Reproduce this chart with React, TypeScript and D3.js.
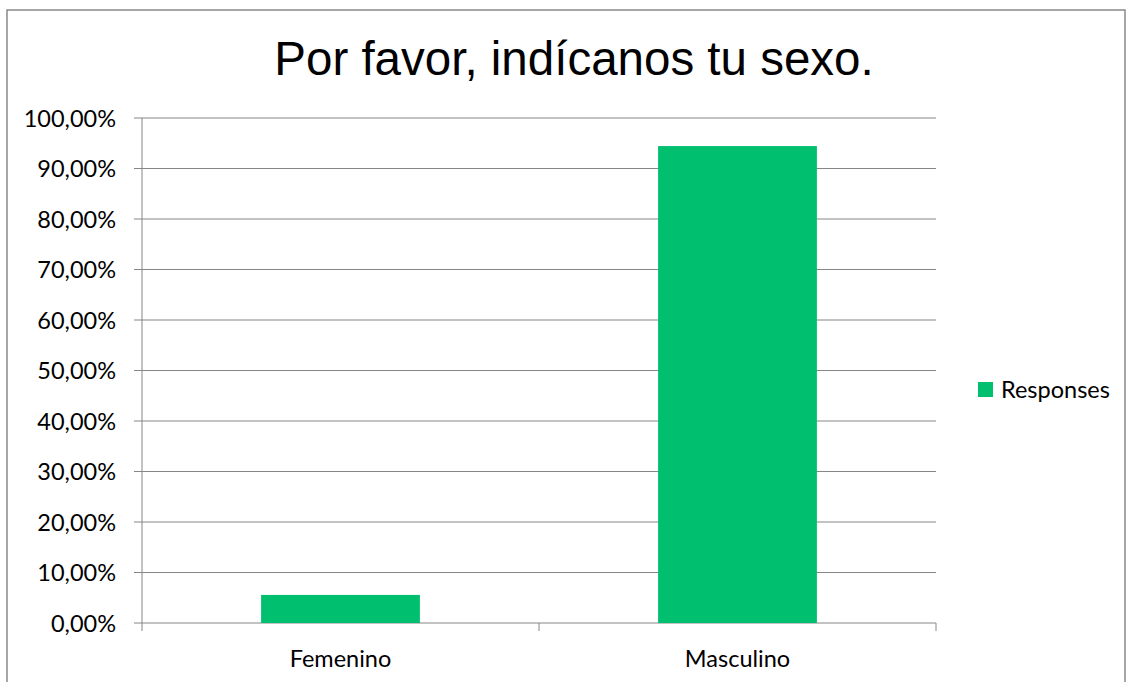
import React from "react";
import * as d3 from "d3";

const title = "Por favor, indícanos tu sexo.";
const categories = ["Femenino", "Masculino"];
const values = [5.56, 94.44];
const seriesName = "Responses";
const yTicks = [0, 10, 20, 30, 40, 50, 60, 70, 80, 90, 100];

const W = 1126;
const H = 682;
const M = { left: 142, right: 936, top: 118, bottom: 623 };
const font = "Lato, 'Open Sans', sans-serif";
const fs = 23.5;
const green = "#00BF6F";
const gridColor = "#868686";

export default function App() {
  const x = d3
    .scaleBand<string>()
    .domain(categories)
    .range([M.left, M.right])
    .paddingInner(0.6)
    .paddingOuter(0.3);
  const xOuter = d3.scaleBand<string>().domain(categories).range([M.left, M.right]).padding(0);
  const y = d3.scaleLinear().domain([0, 100]).range([M.bottom, M.top]);
  const fmt = (v: number) => v.toFixed(2).replace(".", ",") + "%";
  const xTickPositions = [M.left, ...categories.map((c) => (xOuter(c) as number) + xOuter.bandwidth())];

  return (
    <svg
      width={W}
      height={H}
      style={{ position: "absolute", left: 0, top: 0, background: "#fff" }}
    >
      <rect x={7} y={10} width={1118} height={700} fill="#fff" stroke="#898989" strokeWidth={1.5} />
      <text x={574} y={75} textAnchor="middle" fontFamily="'Liberation Sans', Arial, sans-serif" fontSize={47.5} fill="#000">
        {title}
      </text>
      {yTicks.map((t) => (
        <g key={t}>
          <line x1={M.left - 8} x2={M.right} y1={y(t)} y2={y(t)} stroke={gridColor} strokeWidth={1} />
          <text x={116} y={y(t) + 8.5} textAnchor="end" fontFamily={font} fontSize={fs} fill="#000">
            {fmt(t)}
          </text>
        </g>
      ))}
      <line x1={M.left} x2={M.left} y1={M.top} y2={M.bottom} stroke={gridColor} strokeWidth={1} />
      {xTickPositions.map((p, i) => (
        <line key={i} x1={p} x2={p} y1={M.bottom} y2={M.bottom + 8} stroke={gridColor} strokeWidth={1} />
      ))}
      {categories.map((c, i) => (
        <rect
          key={c}
          x={x(c)}
          y={y(values[i])}
          width={x.bandwidth()}
          height={y(0) - y(values[i])}
          fill={green}
        />
      ))}
      {categories.map((c) => (
        <text
          key={c}
          x={(x(c) as number) + x.bandwidth() / 2}
          y={667}
          textAnchor="middle"
          fontFamily={font}
          fontSize={fs}
          fill="#000"
        >
          {c}
        </text>
      ))}
      <rect x={978} y={382} width={15} height={15} fill={green} />
      <text x={1001} y={398} fontFamily={font} fontSize={fs} fill="#000">
        {seriesName}
      </text>
    </svg>
  );
}
